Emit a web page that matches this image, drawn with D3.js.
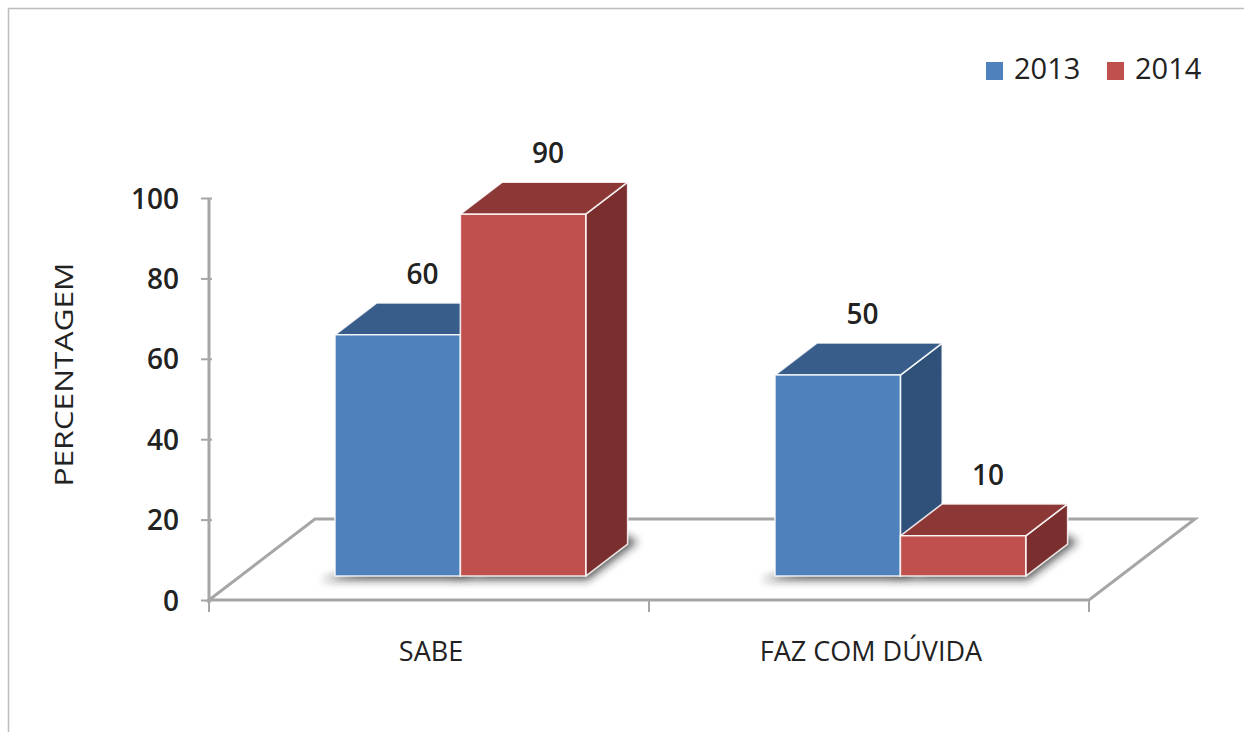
<!DOCTYPE html>
<html>
<head>
<meta charset="utf-8">
<script src="https://cdn.jsdelivr.net/npm/d3@7"></script>
<style>
  html, body { margin: 0; padding: 0; background: #fff; }
  svg { display: block; }
  text { font-family: "Open Sans", "DejaVu Sans", sans-serif; fill: #222; }
</style>
</head>
<body>
<svg id="chart" width="1244" height="732"></svg>
<script>
// Chart data
const categories = ["SABE", "FAZ COM DÚVIDA"];
const seriesNames = ["2013", "2014"];
const values2013 = [60, 50];
const values2014 = [90, 10];
const yTicks = [0, 20, 40, 60, 80, 100];
const axisTitle = "PERCENTAGEM";

const seriesValues = [values2013, values2014];
const palette = {
  "2013": { front: "#4f81bd", top: "#385d8a", side: "#2f5079" },
  "2014": { front: "#c0504d", top: "#8c3836", side: "#7a2e2d" }
};

const svg = d3.select("#chart");
const W = 1244, H = 732;

// Frame
svg.append("path")
  .attr("d", `M8.5,${H} V8.5 H${W}`)
  .attr("fill", "none").attr("stroke", "#bdbdbd").attr("stroke-width", 1.5);

// Front plane scales
const y = d3.scaleLinear().domain([0, 100]).range([600, 198]);
const x0 = d3.scaleBand().domain(categories).range([209, 1089]).paddingInner(0).paddingOuter(0);
// depth vector of the whole floor (oblique projection)
const depth = { dx: 106, dy: -81 };
const zFront = 0.296, zBack = 0.691;
const proj = (px, py, z) => [px + z * depth.dx, py + z * depth.dy];

// bars cover the central part of each category band
const groupFrac = 0.57;
const x1 = d3.scaleBand().domain(seriesNames)
  .range([0, x0.bandwidth() * groupFrac]);
const groupOffset = x0.bandwidth() * (1 - groupFrac) / 2;

const defs = svg.append("defs");
defs.append("filter").attr("id", "soft")
  .attr("x", "-20%").attr("y", "-50%").attr("width", "140%").attr("height", "200%")
  .append("feGaussianBlur").attr("stdDeviation", 4);

// Floor
const x0min = x0.range()[0], x0max = x0.range()[1];
const floorPts = [proj(x0min, y(0), 0), proj(x0max, y(0), 0), proj(x0max, y(0), 1), proj(x0min, y(0), 1)];
svg.append("polygon")
  .attr("points", floorPts.map(p => p.join(",")).join(" "))
  .attr("fill", "#fff").attr("stroke", "#a6a6a6").attr("stroke-width", 3)
  .attr("stroke-linejoin", "miter");

// Category tick marks on the front edge of the floor
svg.append("g").selectAll("line")
  .data([...categories.map(c => x0(c)), x0max])
  .join("line")
  .attr("x1", d => d).attr("x2", d => d)
  .attr("y1", y(0)).attr("y2", y(0) + 12)
  .attr("stroke", "#a6a6a6").attr("stroke-width", 2);

// Value axis
const yAxis = d3.axisLeft(y).tickValues(yTicks).tickSize(0).tickPadding(0);
const axisG = svg.append("g").attr("transform", `translate(${x0min},0)`).call(yAxis);
axisG.select(".domain").attr("stroke", "#a6a6a6").attr("stroke-width", 3).attr("d", `M0,${y(100)}V${y(0) + 3}`);
axisG.selectAll(".tick line").attr("x1", -8).attr("x2", 3).attr("stroke", "#a6a6a6").attr("stroke-width", 2);
axisG.selectAll(".tick text")
  .attr("x", -30).attr("dy", "0.36em")
  .style("font-size", "28px").style("font-weight", 600)
  .style("font-family", "'Open Sans', sans-serif")
  .attr("fill", "#222");

// Axis title
svg.append("text")
  .attr("transform", `translate(73,${374.5}) rotate(-90)`)
  .attr("text-anchor", "middle")
  .attr("textLength", 224).attr("lengthAdjust", "spacingAndGlyphs")
  .style("font-size", "25px").style("font-weight", 500)
  .text(axisTitle);

// Category labels
svg.append("g").selectAll("text")
  .data(categories)
  .join("text")
  .attr("x", d => x0(d) + x0.bandwidth() / 2 + 2)
  .attr("y", 661)
  .attr("text-anchor", "middle")
  .style("font-size", "27px").style("font-weight", 500)
  .text(d => d);

// Bar data
const bars = [];
categories.forEach((c, ci) => {
  seriesNames.forEach((s, si) => {
    bars.push({ cat: c, series: s, value: seriesValues[si][ci] });
  });
});

// Contact shadows
const shadowG = svg.append("g").attr("filter", "url(#soft)");
bars.forEach(b => {
  const left = x0(b.cat) + groupOffset + x1(b.series);
  const right = left + x1.bandwidth();
  const p = [
    proj(left - 14, y(0) + 4, zFront),
    proj(right + 2, y(0) + 4, zFront),
    proj(right + 10, y(0) - 2, zBack),
    proj(right - 4, y(0) - 10, zBack)
  ];
  shadowG.append("polygon")
    .attr("points", p.map(q => q.join(",")).join(" "))
    .attr("fill", "#222").attr("opacity", 0.75);
});

// 3D bars
const barG = svg.append("g");
const edge = { stroke: "#ffffff", "stroke-width": 1.6, "stroke-opacity": 0.85, "stroke-linejoin": "round" };
function face(g, pts, fill) {
  const el = g.append("polygon")
    .attr("points", pts.map(q => q.join(",")).join(" "))
    .attr("fill", fill);
  Object.entries(edge).forEach(([k, v]) => el.attr(k, v));
}
bars.forEach(b => {
  const g = barG.append("g");
  const col = palette[b.series];
  const left = x0(b.cat) + groupOffset + x1(b.series);
  const right = left + x1.bandwidth();
  const top = y(b.value), base = y(0);
  const fTL = proj(left, top, zFront), fTR = proj(right, top, zFront);
  const fBL = proj(left, base, zFront), fBR = proj(right, base, zFront);
  const bTL = proj(left, top, zBack), bTR = proj(right, top, zBack);
  const bBR = proj(right, base, zBack);
  face(g, [fTR, bTR, bBR, fBR], col.side);
  face(g, [fTL, fTR, bTR, bTL], col.top);
  face(g, [fTL, fTR, fBR, fBL], col.front);
});

// Value labels above the bars
svg.append("g").selectAll("text")
  .data(bars)
  .join("text")
  .attr("x", b => {
    const left = x0(b.cat) + groupOffset + x1(b.series);
    const mid = (zFront + zBack) / 2;
    return proj(left + x1.bandwidth() / 2, 0, mid)[0] + 4;
  })
  .attr("y", b => proj(0, y(b.value), zBack)[1] - 19)
  .attr("text-anchor", "middle")
  .style("font-size", "28px").style("font-weight", 600)
  .text(b => b.value);

// Legend
const legend = svg.append("g");
const legendX = [986, 1107];
seriesNames.forEach((s, i) => {
  legend.append("rect")
    .attr("x", legendX[i]).attr("y", 62).attr("width", 17).attr("height", 18)
    .attr("fill", palette[s].front);
  legend.append("text")
    .attr("x", legendX[i] + 28).attr("y", 79)
    .style("font-size", "29px").style("font-weight", 500)
    .text(s);
});
</script>
</body>
</html>
